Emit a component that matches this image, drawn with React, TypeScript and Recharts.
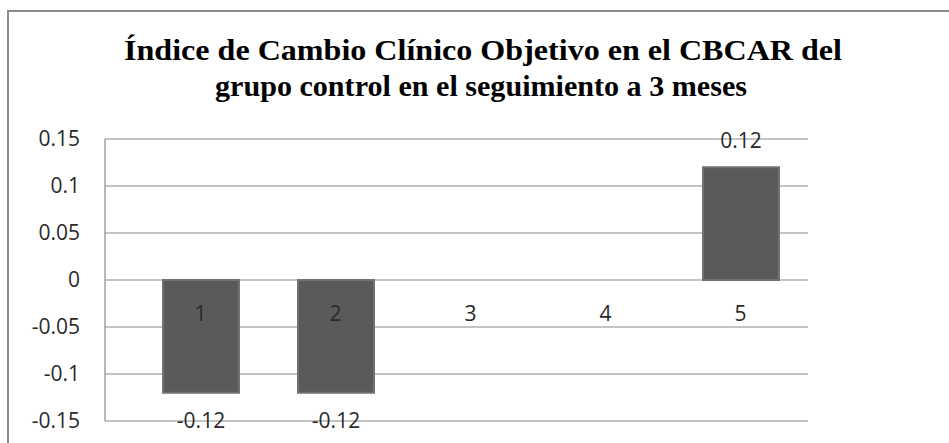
import React from "react";
import { BarChart, Bar, XAxis, YAxis, CartesianGrid, LabelList } from "recharts";

const categories = ["1", "2", "3", "4", "5"];
const values = [-0.12, -0.12, 0, 0, 0.12];
const yTicks = [-0.15, -0.1, -0.05, 0, 0.05, 0.1, 0.15];
const titleLines = [
  "Índice de Cambio Clínico Objetivo en el CBCAR del",
  "grupo control en el seguimiento a 3 meses",
];

const data = categories.map((c, i) => ({ name: c, value: values[i] }));

const FONT = "'Open Sans', 'Liberation Sans', sans-serif";

const CategoryTick = (props: any) => {
  const { x, y, payload } = props;
  return (
    <text x={x} y={y} dy={-100} textAnchor="middle" fontSize={21} fill="#2a2a2a" fontFamily={FONT}>
      {payload.value}
    </text>
  );
};

const ValueLabel = (props: any) => {
  const { x, y, width, height, value } = props;
  if (!value) return null;
  const top = Math.min(y, y + height);
  const bottom = Math.max(y, y + height);
  const ty = value < 0 ? bottom + 35 : top - 19;
  return (
    <text x={x + width / 2} y={ty} textAnchor="middle" fontSize={21} fill="#2a2a2a" fontFamily={FONT}>
      {String(value)}
    </text>
  );
};

export default function App() {
  return (
    <div
      style={{
        position: "absolute",
        left: 0,
        top: 0,
        width: 949,
        height: 443,
        overflow: "hidden",
        background: "#fff",
      }}
    >
      <div
        style={{
          position: "absolute",
          left: 7,
          top: 10,
          width: 1000,
          height: 1000,
          border: "2px solid #8a8a8a",
        }}
      />
      <svg width={949} height={120} style={{ position: "absolute", left: 0, top: 0 }}>
        <text
          x={483}
          y={60}
          textAnchor="middle"
          fontFamily="'Liberation Serif', 'Times New Roman', serif"
          fontWeight="bold"
          fontSize={30}
          fill="#000"
          textLength={718}
          lengthAdjust="spacingAndGlyphs"
        >
          {titleLines[0]}
        </text>
        <text
          x={481}
          y={96}
          textAnchor="middle"
          fontFamily="'Liberation Serif', 'Times New Roman', serif"
          fontWeight="bold"
          fontSize={30}
          fill="#000"
          textLength={532}
          lengthAdjust="spacingAndGlyphs"
        >
          {titleLines[1]}
        </text>
      </svg>
      <div style={{ position: "absolute", left: 0, top: 0 }}>
        <BarChart
          width={949}
          height={443}
          data={data}
          margin={{ top: 139, right: 141, bottom: 21, left: 0 }}
          barSize={76}
        >
          <CartesianGrid horizontal={true} vertical={false} stroke="#8a8a8a" strokeWidth={1.2} />
          <XAxis
            dataKey="name"
            height={1}
            axisLine={false}
            tickLine={false}
            tickSize={0}
            tickMargin={0}
            padding={{ left: 28, right: 0 }}
            tick={<CategoryTick />}
            interval={0}
          />
          <YAxis
            width={105}
            domain={[-0.15, 0.15]}
            ticks={yTicks}
            allowDataOverflow={true}
            axisLine={{ stroke: "#8a8a8a", strokeWidth: 1.2 }}
            tickLine={false}
            tickSize={0}
            tickMargin={25}
            tick={{ fontSize: 21, fill: "#2a2a2a", fontFamily: FONT }}
            interval={0}
          />
          <Bar dataKey="value" fill="#5a5a5a" stroke="#727272" strokeWidth={2} isAnimationActive={false}>
            <LabelList dataKey="value" content={<ValueLabel />} />
          </Bar>
        </BarChart>
      </div>
    </div>
  );
}
